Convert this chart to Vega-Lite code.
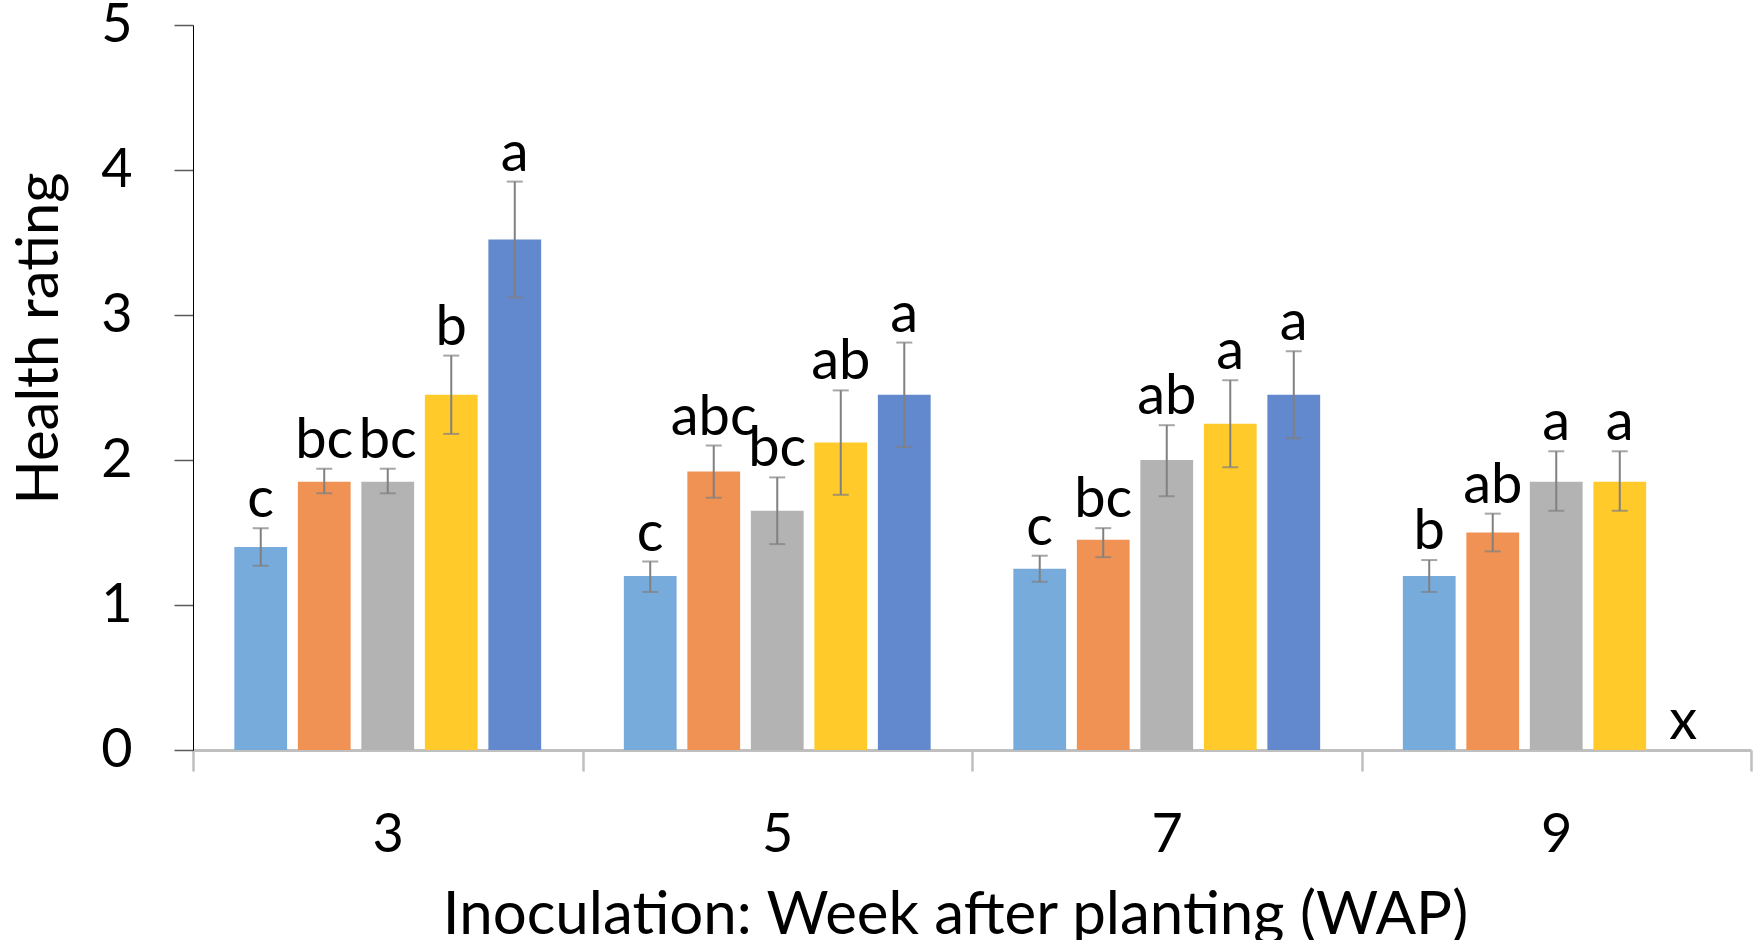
{
  "$schema": "https://vega.github.io/schema/vega-lite/v6.json",
  "autosize": "none",
  "width": 1558,
  "height": 725,
  "padding": {"left": 193, "top": 25, "right": 11, "bottom": 190},
  "background": "white",
  "config": {
    "font": "Lato",
    "view": {"stroke": null}
  },
  "data": {
    "values": [
      {"week": "3", "trt": "T1", "mean": 1.4, "lo": 1.27, "hi": 1.53, "grp": "c"},
      {"week": "3", "trt": "T2", "mean": 1.85, "lo": 1.77, "hi": 1.94, "grp": "bc"},
      {"week": "3", "trt": "T3", "mean": 1.85, "lo": 1.77, "hi": 1.94, "grp": "bc"},
      {"week": "3", "trt": "T4", "mean": 2.45, "lo": 2.18, "hi": 2.72, "grp": "b"},
      {"week": "3", "trt": "T5", "mean": 3.52, "lo": 3.12, "hi": 3.92, "grp": "a"},
      {"week": "5", "trt": "T1", "mean": 1.2, "lo": 1.09, "hi": 1.3, "grp": "c"},
      {"week": "5", "trt": "T2", "mean": 1.92, "lo": 1.74, "hi": 2.1, "grp": "abc"},
      {"week": "5", "trt": "T3", "mean": 1.65, "lo": 1.42, "hi": 1.88, "grp": "bc"},
      {"week": "5", "trt": "T4", "mean": 2.12, "lo": 1.76, "hi": 2.48, "grp": "ab"},
      {"week": "5", "trt": "T5", "mean": 2.45, "lo": 2.09, "hi": 2.81, "grp": "a"},
      {"week": "7", "trt": "T1", "mean": 1.25, "lo": 1.16, "hi": 1.34, "grp": "c"},
      {"week": "7", "trt": "T2", "mean": 1.45, "lo": 1.33, "hi": 1.53, "grp": "bc"},
      {"week": "7", "trt": "T3", "mean": 2.0, "lo": 1.75, "hi": 2.24, "grp": "ab"},
      {"week": "7", "trt": "T4", "mean": 2.25, "lo": 1.95, "hi": 2.55, "grp": "a"},
      {"week": "7", "trt": "T5", "mean": 2.45, "lo": 2.15, "hi": 2.75, "grp": "a"},
      {"week": "9", "trt": "T1", "mean": 1.2, "lo": 1.09, "hi": 1.31, "grp": "b"},
      {"week": "9", "trt": "T2", "mean": 1.5, "lo": 1.37, "hi": 1.63, "grp": "ab"},
      {"week": "9", "trt": "T3", "mean": 1.85, "lo": 1.65, "hi": 2.06, "grp": "a"},
      {"week": "9", "trt": "T4", "mean": 1.85, "lo": 1.65, "hi": 2.06, "grp": "a"},
      {"week": "9", "trt": "T5", "mean": null, "lo": null, "hi": 0, "grp": "x"}
    ]
  },
  "encoding": {
    "x": {
      "field": "week",
      "type": "nominal",
      "scale": {"paddingInner": 0, "paddingOuter": 0},
      "axis": {
        "title": "Inoculation: Week after planting (WAP)",
        "labelAngle": 0,
        "tickBand": "extent",
        "tickSize": 21,
        "tickWidth": 2.5,
        "tickColor": "#bfbfbf",
        "domainColor": "#bfbfbf",
        "domainWidth": 3,
        "labelFontSize": 54,
        "labelColor": "#000000",
        "labelPadding": 37,
        "titleFontSize": 60,
        "titleFontWeight": "normal",
        "titleColor": "#000000",
        "titleBaseline": "top",
        "titleX": 762,
        "titleY": 136
      }
    },
    "xOffset": {
      "field": "trt",
      "type": "nominal",
      "scale": {"paddingInner": 0.169, "paddingOuter": 0.651}
    }
  },
  "layer": [
    {
      "mark": {"type": "bar"},
      "encoding": {
        "y": {
          "field": "mean",
          "type": "quantitative",
          "scale": {"domain": [0, 5], "nice": false},
          "axis": {
            "title": "Health rating",
            "values": [0, 1, 2, 3, 4, 5],
            "format": "d",
            "grid": false,
            "domainColor": "#000000",
            "domainWidth": 1,
            "tickColor": "#595959",
            "tickSize": 19,
            "tickWidth": 1.5,
            "labelFontSize": 54,
            "labelColor": "#000000",
            "labelPadding": 42,
            "titleFontSize": 58,
            "titleFontWeight": "normal",
            "titleColor": "#000000",
            "titleX": -124,
            "titleY": 313
          }
        },
        "color": {
          "field": "trt",
          "type": "nominal",
          "scale": {
            "domain": ["T1", "T2", "T3", "T4", "T5"],
            "range": ["#77abdc", "#f09254", "#b3b3b3", "#ffca2a", "#6288ce"]
          },
          "legend": null
        }
      }
    },
    {
      "transform": [{"filter": "datum.mean != null"}],
      "mark": {"type": "rule", "color": "#808080", "strokeWidth": 2},
      "encoding": {
        "y": {"field": "lo", "type": "quantitative"},
        "y2": {"field": "hi"}
      }
    },
    {
      "transform": [{"filter": "datum.mean != null"}],
      "mark": {"type": "tick", "color": "#808080", "thickness": 2, "size": 16},
      "encoding": {
        "y": {"field": "lo", "type": "quantitative"}
      }
    },
    {
      "transform": [{"filter": "datum.mean != null"}],
      "mark": {"type": "tick", "color": "#808080", "thickness": 2, "size": 16},
      "encoding": {
        "y": {"field": "hi", "type": "quantitative"}
      }
    },
    {
      "mark": {"type": "text", "fontSize": 56, "color": "#000000", "baseline": "alphabetic", "dy": -11},
      "encoding": {
        "y": {"field": "hi", "type": "quantitative"},
        "text": {"field": "grp"}
      }
    }
  ]
}
